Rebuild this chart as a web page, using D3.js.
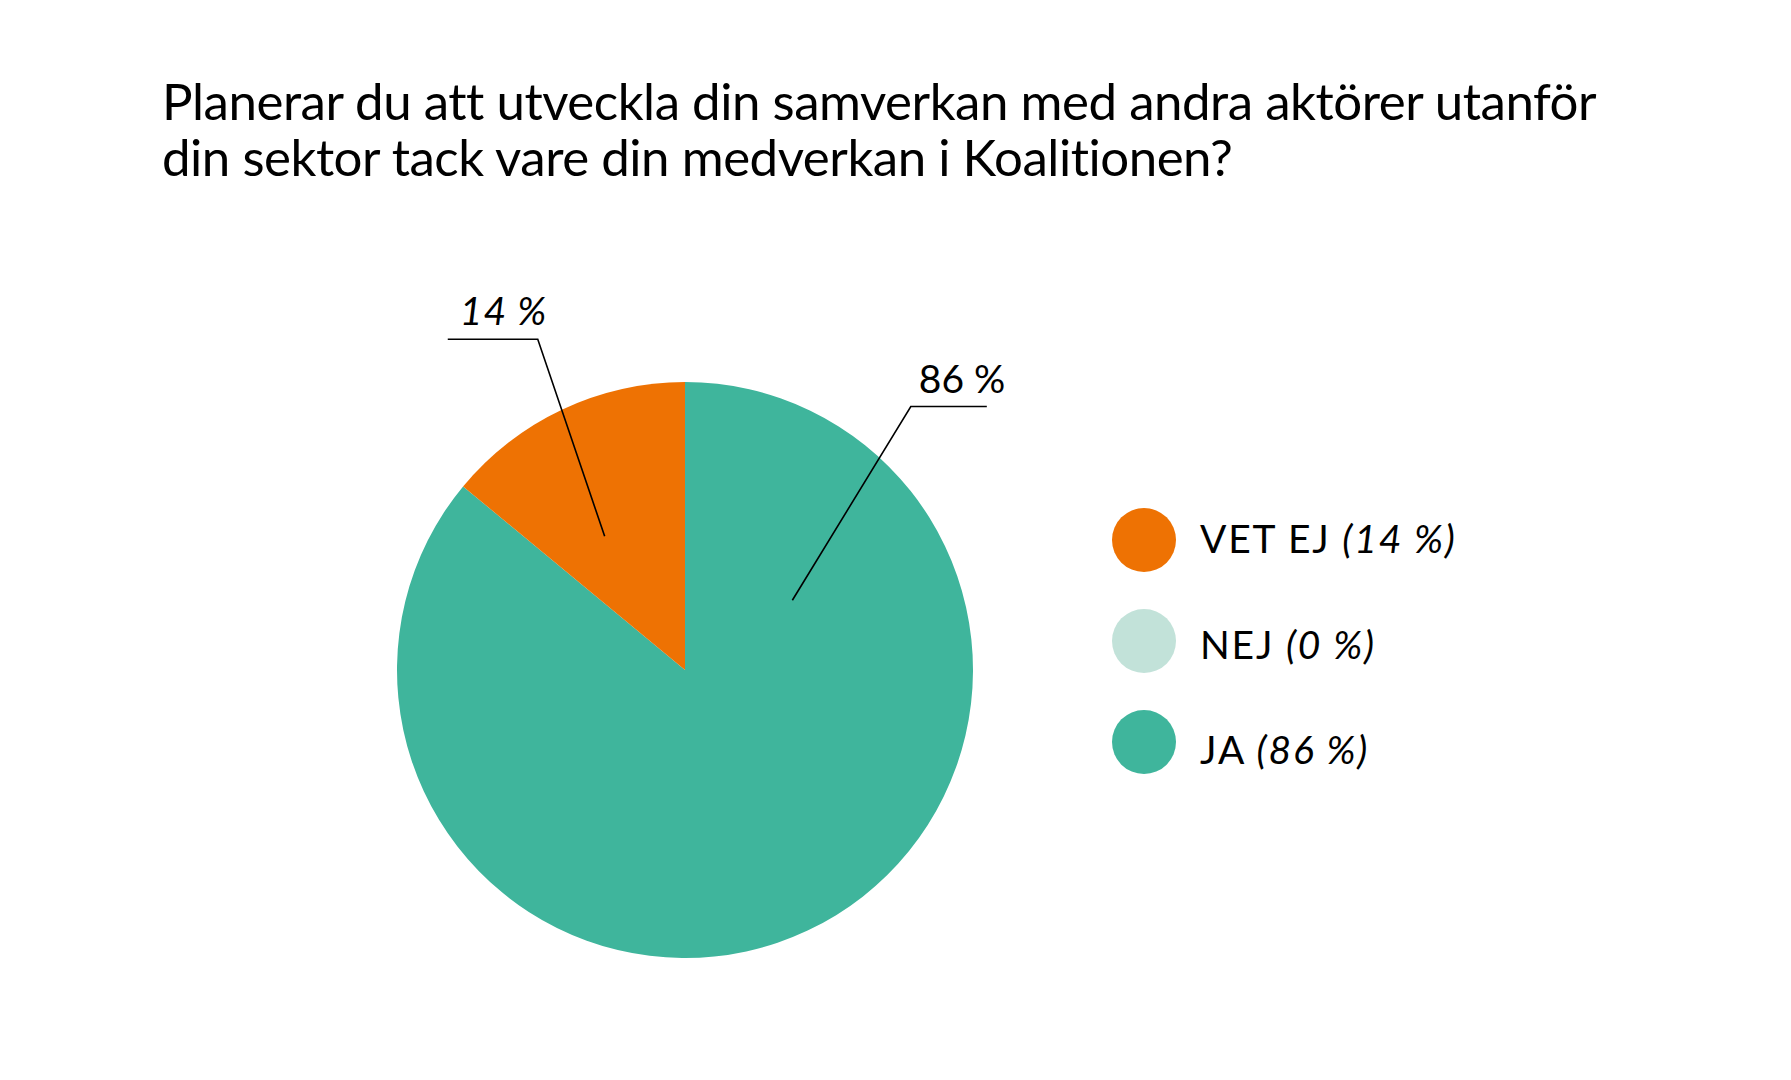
<!DOCTYPE html>
<html lang="sv">
<head>
  <meta charset="UTF-8">
  <title>Samverkan</title>
  <style>
    html, body { margin: 0; padding: 0; background: #fff; }
    svg { display: block; font-family: Lato, "Noto Sans", sans-serif; }
  </style>
</head>
<body>
  <div id="chart"></div>
  <script src="https://cdn.jsdelivr.net/npm/d3@7"></script>
  <script>
    // values
    var titleLines = [
      'Planerar du att utveckla din samverkan med andra aktörer utanför',
      'din sektor tack vare din medverkan i Koalitionen?'
    ];
    var categories = ['JA', 'NEJ', 'VET EJ'];
    var values = [86, 0, 14];
    var colors = ['#3fb59c', '#c2e2d9', '#ee7203'];
    var legendOrder = ['VET EJ', 'NEJ', 'JA'];

    var width = 1791,
        height = 1080,
        cx = 685,
        cy = 670,
        radius = 288;

    // where the leader lines sit, in degrees clockwise from 12 o'clock
    var leaders = {
      'VET EJ': { inAngle: 329, inR: 156, elbowAngle: 336, elbowR: 362, run: -90, italic: true, dx: 12 },
      'JA':     { inAngle: 57,  inR: 128, elbowAngle: 40.6, elbowR: 347, run: 76, italic: false, dx: 8 }
    };

    var slices = categories.map(function(c, i) {
      return { name: c, value: values[i], color: colors[i] };
    });

    var svg = d3.select('#chart').append('svg')
        .attr('width', width)
        .attr('height', height);

    svg.append('rect').attr('width', width).attr('height', height).attr('fill', '#fff');

    // title, spaced out a little so line one spans like the reference
    var title = svg.append('text')
        .attr('x', 162)
        .attr('y', 120)
        .attr('font-size', 51)
        .attr('fill', '#000');
    title.selectAll('tspan')
      .data(titleLines)
      .join('tspan')
        .attr('x', 162)
        .attr('dy', function(d, i) { return i ? 56 : 0; })
        .text(function(d) { return d; });

    var firstLine = title.select('tspan').node();
    var spacing = 0;
    for (var k = 0; k < 4; k++) {
      title.attr('letter-spacing', spacing);
      var w = firstLine.getBBox().width;
      spacing += (1435 - w) / titleLines[0].length;
    }
    title.attr('letter-spacing', spacing);

    var pie = d3.pie().sort(null).value(function(d) { return d.value; });
    var arc = d3.arc().innerRadius(0).outerRadius(radius);

    var g = svg.append('g').attr('transform', 'translate(' + cx + ',' + cy + ')');

    g.selectAll('path')
      .data(pie(slices).filter(function(d) { return d.data.value > 0; }))
      .join('path')
        .attr('d', arc)
        .attr('fill', function(d) { return d.data.color; });

    // leader lines + labels
    var rad = Math.PI / 180;
    slices.forEach(function(s) {
      var L = leaders[s.name];
      if (!L) return;
      var p0 = d3.pointRadial(L.inAngle * rad, L.inR),
          p1 = d3.pointRadial(L.elbowAngle * rad, L.elbowR),
          p2 = [p1[0] + L.run, p1[1]];
      g.append('path')
        .attr('d', d3.line()([p0, p1, p2]))
        .attr('fill', 'none')
        .attr('stroke', '#000')
        .attr('stroke-width', 1.6);
      var left = Math.min(p1[0], p2[0]);
      g.append('text')
        .attr('x', left + L.dx)
        .attr('y', p1[1] - 14)
        .attr('font-size', 39)
        .attr('letter-spacing', L.italic ? 1 : 0)
        .attr('font-style', L.italic ? 'italic' : 'normal')
        .attr('fill', '#000')
        .text(s.value + ' %');
    });

    // legend
    var legendY = d3.scalePoint().domain(legendOrder).range([540, 742]);
    var legendText = d3.scalePoint().domain(legendOrder).range([553, 764]);
    var byName = {};
    slices.forEach(function(s) { byName[s.name] = s; });

    var legend = svg.append('g');

    legend.selectAll('circle')
      .data(legendOrder)
      .join('circle')
        .attr('cx', 1144)
        .attr('cy', function(d) { return legendY(d); })
        .attr('r', 32)
        .attr('fill', function(d) { return byName[d].color; });

    var lt = legend.selectAll('text')
      .data(legendOrder)
      .join('text')
        .attr('x', 1200)
        .attr('y', function(d) { return legendText(d); })
        .attr('font-size', 39)
        .attr('letter-spacing', 1.8)
        .attr('fill', '#000');
    lt.append('tspan').text(function(d) { return d + ' '; });
    lt.append('tspan')
      .attr('font-style', 'italic')
      .text(function(d) { return '(' + byName[d].value + ' %)'; });
  </script>
</body>
</html>
